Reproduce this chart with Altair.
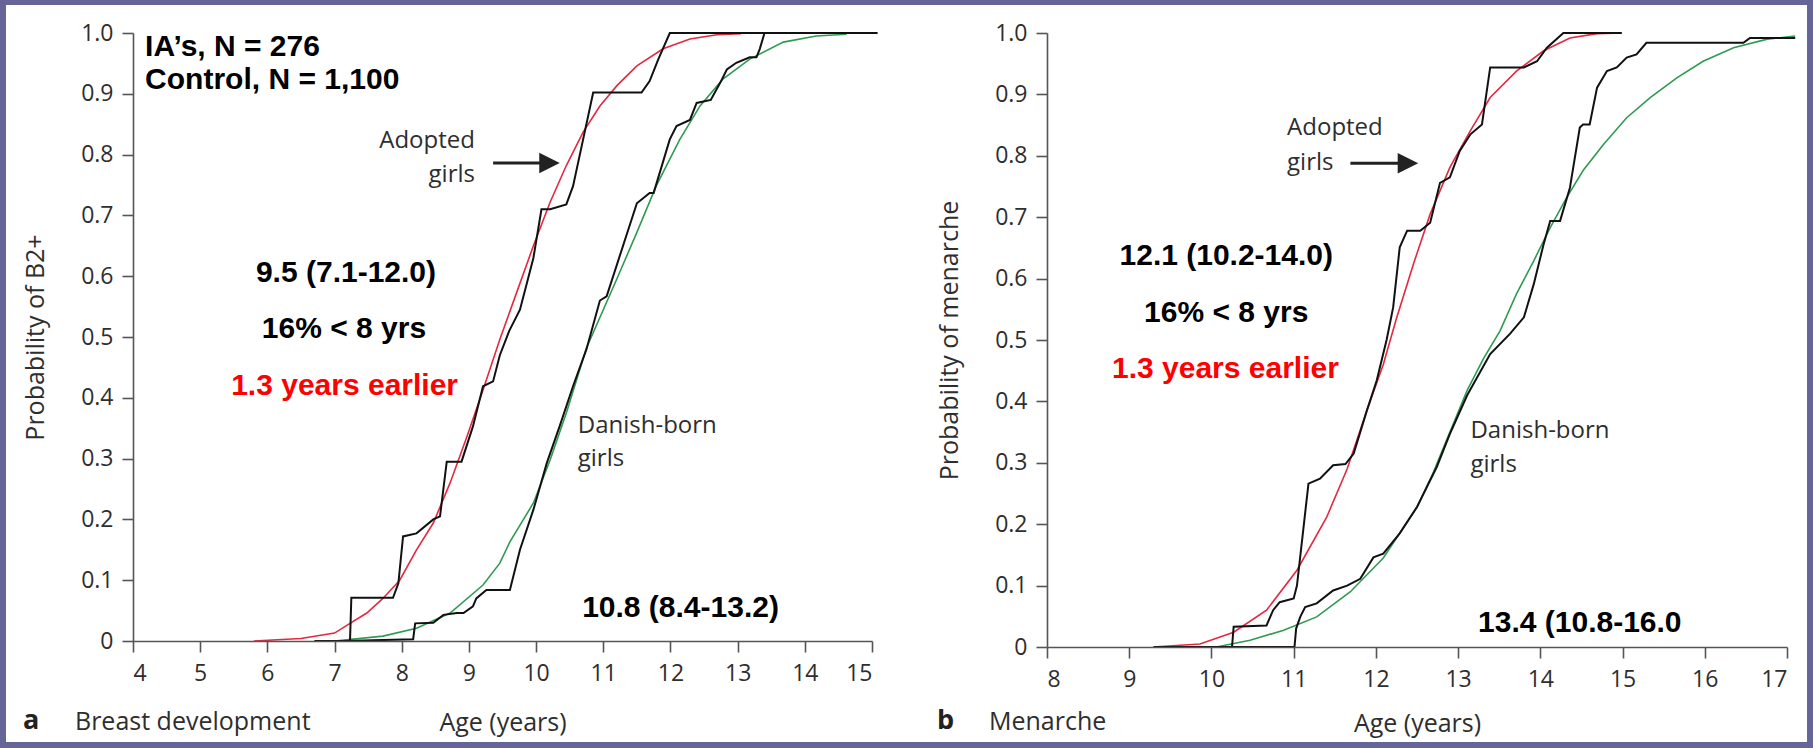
import altair as alt
import pandas as pd

# ---------------- data ----------------
A_XTICKS = [4, 5, 6, 7, 8, 9, 10, 11, 12, 13, 14, 15]
B_XTICKS = [8, 9, 10, 11, 12, 13, 14, 15, 16, 17]
Y_TICKS = [0, 0.1, 0.2, 0.3, 0.4, 0.5, 0.6, 0.7, 0.8, 0.9, 1.0]

# Panel a: breast development
a_adopt_fit_age = [5.8, 6.5, 7.0, 7.23, 7.48, 7.72, 7.97, 8.22, 8.47, 8.72, 8.97, 9.21, 9.46, 9.71,
                   9.96, 10.21, 10.45, 10.70, 10.95, 11.2, 11.5, 11.89, 12.29, 12.69, 13.05]
a_adopt_fit_p = [0.0, 0.004, 0.013, 0.029, 0.046, 0.07, 0.1, 0.15, 0.194, 0.26, 0.336, 0.413, 0.496, 0.573,
                 0.65, 0.722, 0.782, 0.837, 0.88, 0.913, 0.946, 0.974, 0.99, 0.997, 0.999]

a_adopt_km_age = [6.7, 7.23, 7.25, 7.87, 7.95, 8.02, 8.22, 8.47, 8.57, 8.67, 8.89, 9.06, 9.21, 9.36, 9.46,
                  9.6, 9.76, 9.96, 10.08, 10.21, 10.45, 10.55, 10.70, 10.85, 11.57, 11.69, 11.82, 11.99, 15.08]
a_adopt_km_p = [0.0, 0.0, 0.071, 0.071, 0.095, 0.172, 0.177, 0.2, 0.205, 0.295, 0.295, 0.353, 0.419, 0.427, 0.47,
                0.51, 0.545, 0.63, 0.71, 0.71, 0.718, 0.748, 0.825, 0.902, 0.902, 0.921, 0.957, 1.0, 1.0]

a_dan_fit_age = [7.0, 7.72, 8.22, 8.72, 9.21, 9.46, 9.61, 9.96, 10.21, 10.45, 10.75, 11.2, 11.5, 11.79,
                 12.14, 12.44, 12.78, 13.18, 13.68, 14.17, 14.62]
a_dan_fit_p = [0.0, 0.008, 0.021, 0.046, 0.092, 0.128, 0.163, 0.227, 0.298, 0.375, 0.482, 0.595, 0.672, 0.749,
               0.825, 0.88, 0.924, 0.957, 0.985, 0.995, 0.998]

a_dan_km_age = [7.13, 8.17, 8.2, 8.47, 8.62, 8.82, 8.92, 9.06, 9.11, 9.26, 9.61, 9.76, 9.96, 10.16, 10.35,
                10.55, 10.75, 10.95, 11.05, 11.5, 11.69, 11.75, 11.99, 12.09, 12.29, 12.39, 12.6, 12.74,
                12.84, 12.98, 13.18, 13.28, 13.33, 13.4, 15.08]
a_dan_km_p = [0.0, 0.003, 0.029, 0.03, 0.043, 0.046, 0.046, 0.057, 0.07, 0.084, 0.084, 0.15, 0.216, 0.293, 0.353,
              0.419, 0.48, 0.56, 0.567, 0.72, 0.737, 0.737, 0.825, 0.847, 0.857, 0.885, 0.89, 0.918,
              0.94, 0.951, 0.96, 0.96, 0.974, 1.0, 1.0]

# Panel b: menarche
b_adopt_fit_age = [9.29, 9.86, 10.27, 10.67, 11.04, 11.4, 11.65, 11.89, 12.09, 12.25, 12.46, 12.66, 12.9,
                   13.15, 13.39, 13.71, 14.04, 14.36, 14.69, 14.99]
b_adopt_fit_p = [0.0, 0.005, 0.024, 0.06, 0.125, 0.211, 0.29, 0.385, 0.46, 0.535, 0.625, 0.705, 0.781,
                 0.841, 0.895, 0.938, 0.971, 0.992, 0.999, 1.0]

b_adopt_km_age = [9.3, 10.25, 10.27, 10.67, 10.75, 10.83, 11.0, 11.04, 11.18, 11.32, 11.48, 11.63, 11.73,
                  11.89, 12.01, 12.13, 12.21, 12.29, 12.38, 12.54, 12.66, 12.78, 12.9, 13.02, 13.15, 13.29,
                  13.39, 13.8, 13.96, 14.08, 14.28, 14.99]
b_adopt_km_p = [0.0, 0.0, 0.033, 0.035, 0.06, 0.073, 0.079, 0.1, 0.266, 0.274, 0.296, 0.298, 0.315,
                0.385, 0.434, 0.5, 0.553, 0.651, 0.678, 0.678, 0.691, 0.756, 0.765, 0.808, 0.835, 0.851,
                0.944, 0.944, 0.954, 0.976, 1.0, 1.0]

b_dan_fit_age = [10.06, 10.47, 10.87, 11.28, 11.69, 12.09, 12.5, 12.7, 12.9, 13.11, 13.31, 13.51, 13.71,
                 13.92, 14.12, 14.32, 14.52, 14.77, 15.05, 15.34, 15.66, 15.98, 16.35, 16.76, 17.1]
b_dan_fit_p = [0.0, 0.011, 0.027, 0.049, 0.09, 0.145, 0.228, 0.285, 0.35, 0.418, 0.47, 0.515, 0.575,
               0.629, 0.683, 0.732, 0.776, 0.819, 0.862, 0.895, 0.927, 0.954, 0.976, 0.99, 0.995]

b_dan_km_age = [10.2, 11.01, 11.03, 11.08, 11.14, 11.28, 11.48, 11.65, 11.81, 11.97, 12.09, 12.29, 12.5,
                12.74, 12.9, 13.11, 13.39, 13.63, 13.8, 13.92, 14.04, 14.12, 14.24, 14.36, 14.48, 14.52,
                14.6, 14.69, 14.81, 14.93, 15.05, 15.17, 15.29, 16.47, 16.55, 17.1]
b_dan_km_p = [0.0, 0.0, 0.03, 0.049, 0.065, 0.071, 0.092, 0.1, 0.111, 0.146, 0.152, 0.185, 0.228,
              0.293, 0.347, 0.41, 0.477, 0.51, 0.537, 0.591, 0.656, 0.694, 0.694, 0.748, 0.846, 0.851,
              0.851, 0.911, 0.938, 0.944, 0.96, 0.965, 0.984, 0.984, 0.992, 0.992]

# Annotations (data coordinates: age, probability)
a_stats_text = ["9.5 (7.1-12.0)", "16% < 8 yrs", "10.8 (8.4-13.2)"]
a_stats_age = [7.17, 7.14, 12.15]
a_stats_p = [0.591, 0.498, 0.040]
a_red_text = ["1.3 years earlier"]
a_red_age = [7.15]
a_red_p = [0.405]
a_n_text = ["IA’s, N = 276", "Control, N = 1,100"]
a_n_age = [4.18, 4.18]
a_n_p = [0.962, 0.908]
a_adopt_lbl = ["Adopted", "girls"]
a_adopt_lbl_age = [9.09, 9.09]
a_adopt_lbl_p = [0.811, 0.755]
a_dan_lbl = ["Danish-born", "girls"]
a_dan_lbl_age = [10.62, 10.62]
a_dan_lbl_p = [0.342, 0.288]
a_arrow = {"age": [9.36], "age2": [10.15], "head": [10.2], "p": [0.786]}

b_stats_text = ["12.1 (10.2-14.0)", "16% < 8 yrs", "13.4 (10.8-16.0"]
b_stats_age = [10.18, 10.18, 14.48]
b_stats_p = [0.622, 0.530, 0.025]
b_red_text = ["1.3 years earlier"]
b_red_age = [10.17]
b_red_p = [0.438]
b_adopt_lbl = ["Adopted", "girls"]
b_adopt_lbl_age = [10.92, 10.92]
b_adopt_lbl_p = [0.834, 0.777]
b_dan_lbl = ["Danish-born", "girls"]
b_dan_lbl_age = [13.15, 13.15]
b_dan_lbl_p = [0.34, 0.285]
b_arrow = {"age": [11.69], "age2": [12.3], "head": [12.39], "p": [0.788]}

# ---------------- styling ----------------
FRAME = "#656597"
RED = "#e3283f"
GREEN = "#2f9a52"
AXIS_GRAY = "#555555"
LABEL_GRAY = "#2e2e2e"
SANS = "Open Sans"
BOLD_SANS = "Liberation Sans"

W_A, H_A = 739, 608
W_B, H_B = 740, 614


def y_axis(title):
    return alt.Axis(values=Y_TICKS, labelExpr="datum.value == 0 ? '0' : format(datum.value, '.1f')",
                    tickSize=11, tickWidth=1.6, tickColor=AXIS_GRAY, domainColor=AXIS_GRAY, domainWidth=1.6,
                    labelFont=SANS, labelFontSize=23, labelColor=LABEL_GRAY, labelPadding=9,
                    grid=False, title=title, titleFont=SANS, titleFontSize=25, titleFontWeight="normal",
                    titleColor=LABEL_GRAY, titleX=-90, titleBaseline="alphabetic", zindex=1)


def x_axis(ticks, title_y):
    return alt.Axis(values=ticks, format="d", tickSize=11, tickWidth=1.6, tickColor=AXIS_GRAY,
                    domainColor=AXIS_GRAY, domainWidth=1.6, labelFont=SANS, labelFontSize=23,
                    labelColor=LABEL_GRAY, labelPadding=10, grid=False, title="Age (years)",
                    titleFont=SANS, titleFontSize=25, titleFontWeight="normal", titleColor=LABEL_GRAY,
                    titleY=title_y, titleBaseline="alphabetic", zindex=1)


def panel(xdom, xticks, ytitle, title_y, curves, n_text, stats, red, adopt_lbl, adopt_align, dan_lbl,
          arrow, letter, caption, width, height, with_bg):
    xs = alt.Scale(domain=xdom, nice=False, zero=False)
    ys = alt.Scale(domain=[0, 1], nice=False)
    X = alt.X("age:Q", scale=xs, axis=x_axis(xticks, title_y))
    Y = alt.Y("p:Q", scale=ys, axis=y_axis(ytitle))
    layers = []
    if with_bg:
        layers.append(alt.Chart(pd.DataFrame({"k": [0]})).mark_rect(color="white").encode(
            x=alt.value(-127), x2=alt.value(1674), y=alt.value(-28), y2=alt.value(709)))
    for ages, ps, color, sw in curves:
        df = pd.DataFrame({"age": ages, "p": ps, "i": list(range(len(ages)))})
        layers.append(alt.Chart(df).mark_line(color=color, strokeWidth=sw).encode(x=X, y=Y, order="i:Q"))

    def text_layer(texts, ages, ps, **kw):
        df = pd.DataFrame({"age": ages, "p": ps, "t": texts})
        return alt.Chart(df).mark_text(baseline="alphabetic", **kw).encode(x=X, y=Y, text="t:N")

    if n_text is not None:
        layers.append(text_layer(*n_text, align="left", font=BOLD_SANS, fontSize=30, fontWeight="bold",
                                 color="black"))
    layers.append(text_layer(*stats, align="center", font=BOLD_SANS, fontSize=30, fontWeight="bold",
                             color="black"))
    layers.append(text_layer(*red, align="center", font=BOLD_SANS, fontSize=30, fontWeight="bold",
                             color="#ff0000"))
    layers.append(text_layer(*adopt_lbl, align=adopt_align, font=SANS, fontSize=24, color=LABEL_GRAY))
    layers.append(text_layer(*dan_lbl, align="left", font=SANS, fontSize=24, color=LABEL_GRAY))

    adf = pd.DataFrame(arrow)
    layers.append(alt.Chart(adf).mark_rule(color="#222222", strokeWidth=3).encode(
        x=X, x2="age2:Q", y=Y))
    layers.append(alt.Chart(adf).mark_point(shape="M-1,-1L1,0L-1,1Z", filled=True, size=420, opacity=1,
                                            color="#222222").encode(
        x=alt.X("head:Q", scale=xs, axis=x_axis(xticks, title_y)), y=Y))

    one = pd.DataFrame({"k": [0]})
    layers.append(alt.Chart(one).mark_text(text=letter, align="left", baseline="alphabetic", font=SANS,
                                           fontSize=27, fontWeight="bold", color="#222222").encode(
        x=alt.value(-110), y=alt.value(696)))
    layers.append(alt.Chart(one).mark_text(text=caption, align="left", baseline="alphabetic", font=SANS,
                                           fontSize=25, color=LABEL_GRAY).encode(
        x=alt.value(-58), y=alt.value(697)))
    return alt.layer(*layers).properties(width=width, height=height)


chart_a = panel(
    [4, 15], A_XTICKS, "Probability of B2+", 89,
    [(a_adopt_fit_age, a_adopt_fit_p, RED, 1.6), (a_dan_fit_age, a_dan_fit_p, GREEN, 1.6),
     (a_adopt_km_age, a_adopt_km_p, "#111111", 2), (a_dan_km_age, a_dan_km_p, "#111111", 2)],
    (a_n_text, a_n_age, a_n_p),
    (a_stats_text, a_stats_age, a_stats_p),
    (a_red_text, a_red_age, a_red_p),
    (a_adopt_lbl, a_adopt_lbl_age, a_adopt_lbl_p), "right",
    (a_dan_lbl, a_dan_lbl_age, a_dan_lbl_p),
    a_arrow, "a", "Breast development", W_A, H_A, True)

chart_b = panel(
    [8, 17], B_XTICKS, "Probability of menarche", 84,
    [(b_adopt_fit_age, b_adopt_fit_p, RED, 1.6), (b_dan_fit_age, b_dan_fit_p, GREEN, 1.6),
     (b_adopt_km_age, b_adopt_km_p, "#111111", 2), (b_dan_km_age, b_dan_km_p, "#111111", 2)],
    None,
    (b_stats_text, b_stats_age, b_stats_p),
    (b_red_text, b_red_age, b_red_p),
    (b_adopt_lbl, b_adopt_lbl_age, b_adopt_lbl_p), "left",
    (b_dan_lbl, b_dan_lbl_age, b_dan_lbl_p),
    b_arrow, "b", "Menarche", W_B, H_B, False)

chart = alt.hconcat(chart_a, chart_b, spacing=175, bounds="flush").properties(
    background=FRAME,
    padding={"left": 6, "top": 5, "right": 6, "bottom": 6},
).configure_view(strokeWidth=0)

chart.save("out.html", embed_options={"renderer": "svg", "actions": False})
